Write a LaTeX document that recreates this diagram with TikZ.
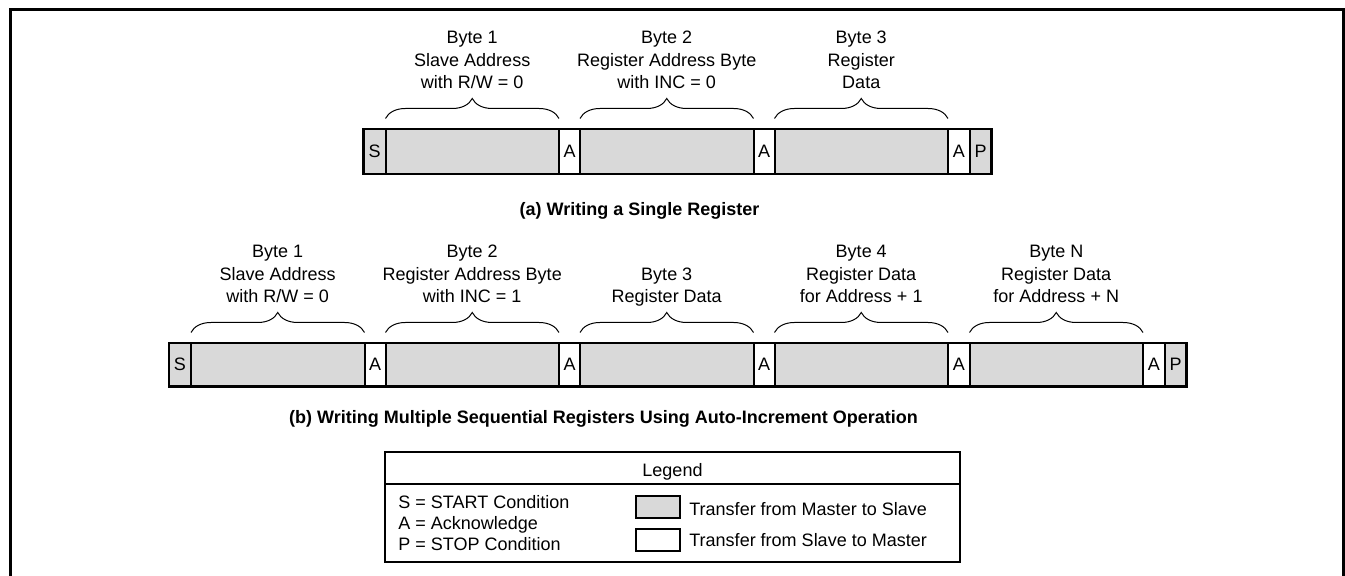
\documentclass[tikz,border=0pt]{standalone}
\usepackage{fontspec}
\setmainfont{Liberation Sans}
\usetikzlibrary{decorations.pathreplacing}
\definecolor{gfill}{RGB}{217,217,217}
\newcommand\mkcell[7]{\node[#6, minimum width={(#3-#2)*0.5pt}, minimum height={(#5-#4)*0.5pt}] (#1) at ({(#2+#3)/2},{(#4+#5)/2}) {#7};}
\begin{document}
\begin{tikzpicture}[x=0.5pt,y=-0.5pt,
  gcell/.style={draw, line width=1pt, fill=gfill, inner sep=0pt, outer sep=0pt, font=\fontsize{9}{11}\selectfont},
  wcell/.style={gcell, fill=white},
  bracket/.style={decorate, decoration={brace, amplitude=10pt}, line width=0.5pt},
  lbl/.style={align=center, font=\fontsize{9}{11.25}\selectfont, inner sep=0pt, text depth=0pt, anchor=south},
  capt/.style={font=\bfseries\fontsize{9}{11}\selectfont, inner sep=0pt, anchor=base},
  txt/.style={font=\fontsize{9}{11}\selectfont, inner sep=0pt, anchor=base west},
  swatch/.style={draw, line width=1pt, minimum width=22pt, minimum height=11pt, inner sep=0pt, outer sep=0pt}
]
\useasboundingbox (0,0) rectangle (1345,576);
% frame
\draw[line width=1.5pt] (10.5,580) -- (10.5,9.5) -- (1343,9.5) -- (1343,580);

% ---------- row (a)
\mkcell{aS}{363.5}{385.5}{129}{174}{gcell}{S}
\mkcell{a1}{385.5}{559}{129}{174}{gcell}{}
\mkcell{aA1}{559}{580}{129}{174}{wcell}{A}
\mkcell{a2}{580}{753.5}{129}{174}{gcell}{}
\mkcell{aA2}{753.5}{774.5}{129}{174}{wcell}{A}
\mkcell{a3}{774.5}{948}{129}{174}{gcell}{}
\mkcell{aA3}{948}{969.5}{129}{174}{wcell}{A}
\mkcell{aP}{969.5}{991.5}{129}{174}{gcell}{P}
\draw[line width=1.3pt] (aS.north west) rectangle (aP.south east);
\foreach \c in {a1,a2,a3}{
  \draw[bracket] ([yshift=5.25pt]\c.north west) -- ([yshift=5.25pt]\c.north east);
}
\node[lbl] (la1) at ([yshift=20pt]a1.north) {Byte 1\\Slave Address\\with R/W = 0};
\node[lbl] (la2) at ([yshift=20pt]a2.north) {Byte 2\\Register Address Byte\\with INC = 0};
\node[lbl] (la3) at ([yshift=20pt]a3.north) {Byte 3\\Register\\Data};
\node[capt] (capa) at (639.5,216) {(a) Writing a Single Register};

% ---------- row (b)
\mkcell{bS}{169}{191}{343}{386.5}{gcell}{S}
\mkcell{b1}{191}{364.5}{343}{386.5}{gcell}{}
\mkcell{bA1}{364.5}{385.5}{343}{386.5}{wcell}{A}
\mkcell{b2}{385.5}{559}{343}{386.5}{gcell}{}
\mkcell{bA2}{559}{580}{343}{386.5}{wcell}{A}
\mkcell{b3}{580}{753.5}{343}{386.5}{gcell}{}
\mkcell{bA3}{753.5}{774.5}{343}{386.5}{wcell}{A}
\mkcell{b4}{774.5}{948}{343}{386.5}{gcell}{}
\mkcell{bA4}{948}{969.5}{343}{386.5}{wcell}{A}
\mkcell{b5}{969.5}{1143}{343}{386.5}{gcell}{}
\mkcell{bA5}{1143}{1164.5}{343}{386.5}{wcell}{A}
\mkcell{bP}{1164.5}{1186.5}{343}{386.5}{gcell}{P}
\draw[line width=1.3pt] (bS.north west) rectangle (bP.south east);
\foreach \c in {b1,b2,b3,b4,b5}{
  \draw[bracket] ([yshift=5.25pt]\c.north west) -- ([yshift=5.25pt]\c.north east);
}
\node[lbl] (lb1) at ([yshift=20pt]b1.north) {Byte 1\\Slave Address\\with R/W = 0};
\node[lbl] (lb2) at ([yshift=20pt]b2.north) {Byte 2\\Register Address Byte\\with INC = 1};
\node[lbl] (lb3) at ([yshift=20pt]b3.north) {Byte 3\\Register Data};
\node[lbl] (lb4) at ([yshift=20pt]b4.north) {Byte 4\\Register Data\\for Address + 1};
\node[lbl] (lb5) at ([yshift=20pt]b5.north) {Byte N\\Register Data\\for Address + N};
\node[capt] (capb) at (603.5,424) {(b) Writing Multiple Sequential Registers Using Auto-Increment Operation};

% ---------- legend
\draw[line width=1.2pt] (385,452) rectangle (960,562);
\draw[line width=0.8pt] (385,484) -- (960,484);
\node[font=\fontsize{9}{11}\selectfont, inner sep=0pt, anchor=base] (legt) at (672.5,476.5) {Legend};
\node[txt] (ls) at (398,508.5) {S = START Condition};
\node[txt] (la) at (398,529.5) {A = Acknowledge};
\node[txt] (lp) at (398,551) {P = STOP Condition};
\node[swatch, fill=gfill] (sw1) at (658,507) {};
\node[swatch, fill=white] (sw2) at (658,540) {};
\node[txt] (lt1) at (689,515.5) {Transfer from Master to Slave};
\node[txt] (lt2) at (689,546.5) {Transfer from Slave to Master};
\end{tikzpicture}
\end{document}
